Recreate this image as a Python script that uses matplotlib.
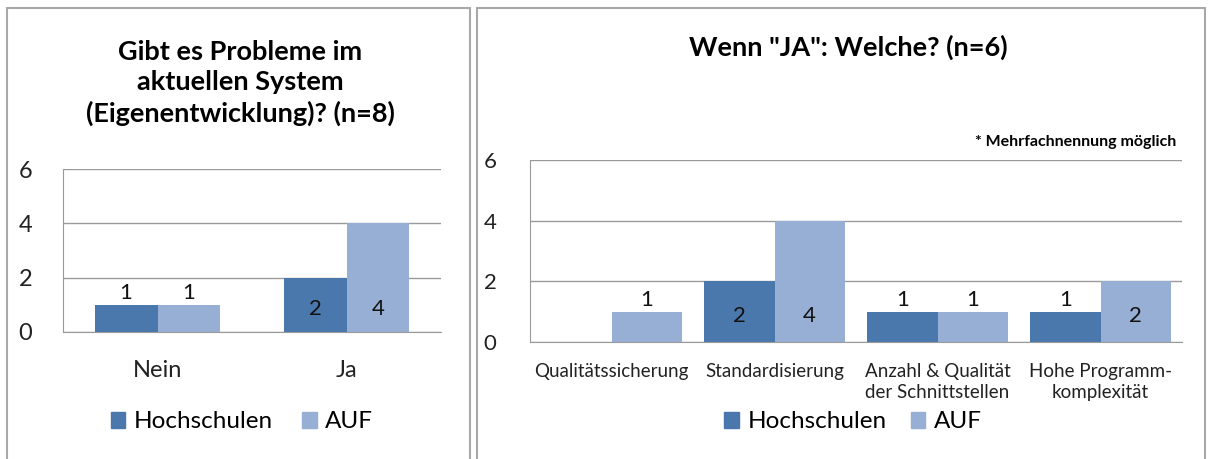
import matplotlib.pyplot as plt
import matplotlib.patches as mpatches
import numpy as np

plt.rcParams['font.family'] = ['Lato', 'DejaVu Sans']

# data - left chart
left_categories = ['Nein', 'Ja']
left_hochschulen = [1, 2]
left_auf = [1, 4]

# data - right chart
right_categories = ['Qualitätssicherung', 'Standardisierung',
                    'Anzahl & Qualität\nder Schnittstellen', 'Hohe Programm-\nkomplexität']
right_hochschulen = [0, 2, 1, 1]
right_auf = [1, 4, 1, 2]

series_names = ['Hochschulen', 'AUF']
dark = '#4A78AC'
light = '#98AFD5'
grid_col = '#9A9A9A'


def bar_labels(ax, x, values, size):
    for xi, v in zip(x, values):
        if v == 0:
            continue
        if v == 1:
            ax.text(xi, v + 0.05, str(v), ha='center', va='bottom', fontsize=size, color='#111111')
        else:
            ax.text(xi, 0.85, str(v), ha='center', va='center', fontsize=size, color='#111111')


def draw_chart(ax, cats, hs, auf, width, tick_size, tick_pad, cat_size, cat_pad, label_size):
    x = np.arange(len(cats))
    ax.bar(x - width / 2, hs, width, color=dark, label=series_names[0], zorder=3)
    ax.bar(x + width / 2, auf, width, color=light, label=series_names[1], zorder=3)
    bar_labels(ax, x - width / 2, hs, label_size)
    bar_labels(ax, x + width / 2, auf, label_size)
    ax.set_ylim(0, 6)
    ax.set_yticks([0, 2, 4, 6])
    ax.set_xlim(-0.5, len(cats) - 0.5)
    ax.set_xticks(x)
    ax.set_xticklabels(cats, fontsize=cat_size, color='#222222', linespacing=1.3)
    ax.tick_params(axis='y', labelsize=tick_size, length=0, pad=tick_pad, colors='#222222')
    ax.tick_params(axis='x', length=0, pad=cat_pad)
    ax.yaxis.grid(True, color=grid_col, lw=1, zorder=0)
    for s in ['top', 'right']:
        ax.spines[s].set_visible(False)
    ax.spines['left'].set_color(grid_col)
    ax.spines['bottom'].set_color(grid_col)
    ax.spines['left'].set_zorder(4)
    ax.spines['bottom'].set_zorder(4)


fig = plt.figure(figsize=(12.08, 4.59), dpi=100)

# panel frames
fig.patches.append(mpatches.Rectangle((7 / 1208, -0.01), 463 / 1208, 1 - 8 / 459 + 0.01,
                                      transform=fig.transFigure, fill=False,
                                      edgecolor='#A8A8A8', lw=1.5))
fig.patches.append(mpatches.Rectangle((477 / 1208, -0.01), 728 / 1208, 1 - 8 / 459 + 0.01,
                                      transform=fig.transFigure, fill=False,
                                      edgecolor='#A8A8A8', lw=1.5))

ax1 = fig.add_axes([63 / 1208, 1 - 332 / 459, 378 / 1208, 163 / 459])
draw_chart(ax1, left_categories, left_hochschulen, left_auf, 0.333, 17, 22, 17, 20, 16)

ax2 = fig.add_axes([530 / 1208, 1 - 342 / 459, 652 / 1208, 182 / 459])
draw_chart(ax2, right_categories, right_hochschulen, right_auf, 0.43, 16, 24, 13.5, 15, 16)

# titles
fig.text(240 / 1208, 1 - 83 / 459, 'Gibt es Probleme im\naktuellen System\n(Eigenentwicklung)? (n=8)',
         ha='center', va='center', fontsize=19.5, fontweight='bold', linespacing=1.3)
fig.text(848 / 1208, 1 - 47 / 459, 'Wenn "JA": Welche? (n=6)',
         ha='center', va='center', fontsize=19.5, fontweight='bold')
fig.text(1176 / 1208, 1 - 142 / 459, '* Mehrfachnennung möglich',
         ha='right', va='center', fontsize=11.5, fontweight='bold')

# legends
handles = [mpatches.Patch(color=dark), mpatches.Patch(color=light)]
fig.legend(handles, series_names, loc='center', bbox_to_anchor=(242 / 1208, 1 - 422 / 459),
           ncol=2, frameon=False, fontsize=17.5, handlelength=0.6, handleheight=0.6,
           handletextpad=0.35, columnspacing=1.2)
fig.legend(handles, series_names, loc='center', bbox_to_anchor=(853 / 1208, 1 - 422 / 459),
           ncol=2, frameon=False, fontsize=17.5, handlelength=0.6, handleheight=0.6,
           handletextpad=0.35, columnspacing=1.0)

plt.savefig('out.png', dpi=100)
